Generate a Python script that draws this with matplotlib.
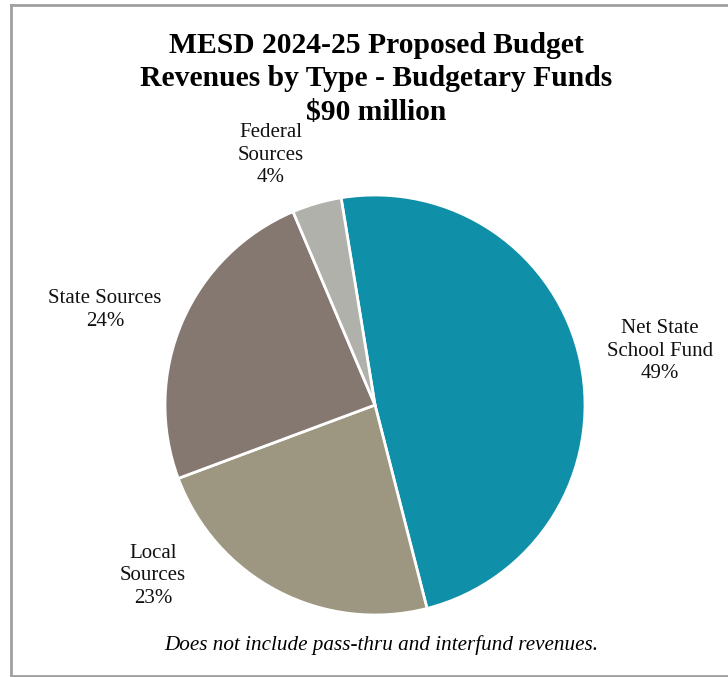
import matplotlib
matplotlib.use("Agg")
import matplotlib.pyplot as plt
from matplotlib.lines import Line2D

# revenue shares (percent), clockwise from the top
labels = ["Net State\nSchool Fund", "Local\nSources", "State Sources", "Federal\nSources"]
shares = [48.6, 23.3, 24.3, 3.8]
colours = ["#0F8FA8", "#9D9680", "#857870", "#B0B1AA"]

W, H = 728, 677
fig = plt.figure(figsize=(W / 100, H / 100), dpi=100)
plt.rcParams["font.family"] = ["Liberation Serif", "DejaVu Serif"]

# pie sits in a square box, pixel coords
ax = fig.add_axes([165 / W, 62 / H, 420 / W, 420 / H])
ax.pie(shares, colors=colours, startangle=99.3, counterclock=False,
       wedgeprops=dict(edgecolor="white", linewidth=2))
ax.set_xlim(-1, 1)
ax.set_ylim(-1, 1)
ax.set_aspect("equal")
ax.axis("off")

# label spots (pixel x, y from top)
spots = [(660, 351), (153, 576), (105, 310), (271, 155)]
for lab, v, (x, y) in zip(labels, shares, spots):
    fig.text(x / W, 1 - y / H, f"{lab}\n{round(v)}%", ha="center", va="center",
             fontsize=15, linespacing=1.22, color="#111111")

fig.text(376 / W, 1 - 79 / H,
         "MESD 2024-25 Proposed Budget\nRevenues by Type - Budgetary Funds\n$90 million",
         ha="center", va="center", fontsize=21.3, fontweight="bold", linespacing=1.3)

fig.text(381 / W, 1 - 645 / H, "Does not include pass-thru and interfund revenues.",
         ha="center", va="center", fontsize=15.2, style="italic")

# grey frame (no right edge visible)
frame = dict(color="#A0A0A0", linewidth=2, transform=fig.transFigure)
fig.add_artist(Line2D([10.5 / W, 10.5 / W], [1 - 4.5 / H, 1 - 675.5 / H], **frame))
fig.add_artist(Line2D([10.5 / W, 1], [1 - 4.5 / H, 1 - 4.5 / H], **frame))
fig.add_artist(Line2D([10.5 / W, 1], [1 - 675.5 / H, 1 - 675.5 / H], **frame))

fig.savefig("out.png", dpi=100)
